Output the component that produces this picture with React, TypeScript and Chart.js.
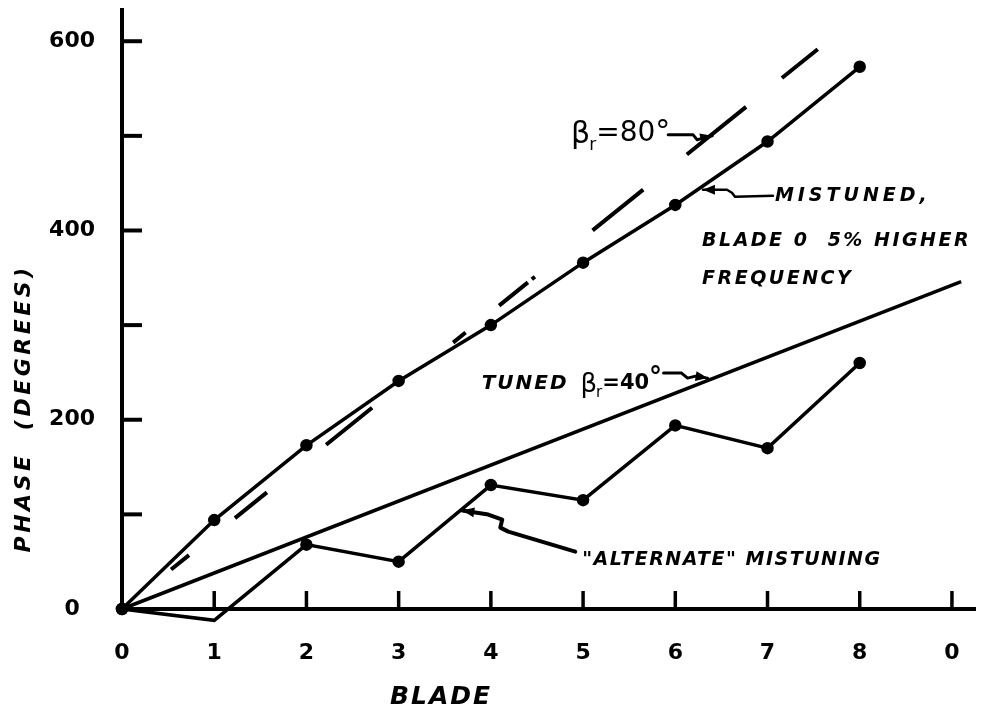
import React, { useEffect, useRef } from 'react';
import { Chart, registerables } from 'chart.js';

Chart.register(...registerables);

// Blade index along the disk and measured / reference phase angles (degrees)
const BLADES = [0, 1, 2, 3, 4, 5, 6, 7, 8];
const MISTUNED_PHASE = [0, 94, 173, 241, 300, 366, 427, 494, 573];
const ALTERNATE_PHASE = [0, -12, 68, 50, 131, 115, 194, 170, 260];
const TUNED40_BLADES = [0, 9.1];
const TUNED40_PHASE = [0, 346];
const BETA80_BLADES = [0, 7.55];
const BETA80_PHASE = [0, 592];

// Axis ticks and labels (blade 9 wraps around to blade 0)
const BLADE_TICKS = [0, 1, 2, 3, 4, 5, 6, 7, 8, 9];
const BLADE_TICK_LABELS = ['0', '1', '2', '3', '4', '5', '6', '7', '8', '0'];
const PHASE_TICKS = [100, 200, 300, 400, 500, 600];
const PHASE_LABELED = [0, 200, 400, 600];
const BLADE_MAX = 9.25;
const PHASE_MAX = 633;

// Note anchors in data units [blade, phase]
const BETA80_TEXT_AT = [4.87, 492];
const BETA80_TIP = [6.4, 500];
const MISTUNED_TIP = [6.3, 443];
const MISTUNED_LINES_AT = [[7.08, 431], [6.29, 384], [6.29, 343]];
const MISTUNED_LINES = ['MISTUNED,', 'BLADE 0  5% HIGHER', 'FREQUENCY'];
const TUNED_TEXT_AT = [3.9, 233];
const TUNED_TIP = [6.35, 244];
const ALT_TIP = [3.69, 104];
const ALT_TEXT_AT = [4.99, 46];
const X_TITLE_AT = [3.46, -93];
const Y_TITLE_AT = [-1.06, 212];

const INK = '#000';
const FAMILY = '"DejaVu Sans", sans-serif';

type P = [number, number];

function arrowHead(ctx: CanvasRenderingContext2D, tip: P, from: P) {
  const ang = Math.atan2(tip[1] - from[1], tip[0] - from[0]);
  const len = 12;
  const half = 5;
  ctx.beginPath();
  ctx.moveTo(tip[0], tip[1]);
  ctx.lineTo(tip[0] - len * Math.cos(ang) + half * Math.sin(ang), tip[1] - len * Math.sin(ang) - half * Math.cos(ang));
  ctx.lineTo(tip[0] - len * Math.cos(ang) - half * Math.sin(ang), tip[1] - len * Math.sin(ang) + half * Math.cos(ang));
  ctx.closePath();
  ctx.fill();
}

// wavy leader: offsets in px from the tip, first point is the tip
function leader(ctx: CanvasRenderingContext2D, tip: P, offsets: P[], width = 3) {
  const pts: P[] = offsets.map(([dx, dy]) => [tip[0] + dx, tip[1] + dy]);
  ctx.lineWidth = width;
  ctx.lineJoin = 'round';
  ctx.lineCap = 'round';
  ctx.beginPath();
  pts.forEach((p, i) => (i ? ctx.lineTo(p[0], p[1]) : ctx.moveTo(p[0], p[1])));
  ctx.stroke();
  arrowHead(ctx, pts[0], pts[1]);
}

function spaced(ctx: CanvasRenderingContext2D, text: string, x: number, y: number, font: string, spacing: number) {
  ctx.font = font;
  (ctx as any).letterSpacing = spacing + 'px';
  ctx.fillText(text, x, y);
  const w = ctx.measureText(text).width;
  (ctx as any).letterSpacing = '0px';
  return w;
}

const decorPlugin = {
  id: 'decor',
  afterDraw(chart: any) {
    const { ctx } = chart;
    const xs = chart.scales.x;
    const ys = chart.scales.y;
    const X = (v: number) => xs.getPixelForValue(v);
    const Y = (v: number) => ys.getPixelForValue(v);
    const at = (p: number[]): P => [X(p[0]), Y(p[1])];
    ctx.save();
    ctx.fillStyle = INK;
    ctx.strokeStyle = INK;
    ctx.lineCap = 'butt';

    // inward tick marks
    ctx.lineWidth = 4;
    PHASE_TICKS.forEach((v) => {
      ctx.beginPath();
      ctx.moveTo(X(0), Y(v));
      ctx.lineTo(X(0) + 20, Y(v));
      ctx.stroke();
    });
    ctx.lineWidth = 3.5;
    BLADE_TICKS.slice(1).forEach((v) => {
      ctx.beginPath();
      ctx.moveTo(X(v), Y(0));
      ctx.lineTo(X(v), Y(0) - 18);
      ctx.stroke();
    });

    ctx.textBaseline = 'alphabetic';
    ctx.textAlign = 'left';

    // β_r = 80° note
    {
      let [x, y] = at(BETA80_TEXT_AT);
      ctx.font = `30px ${FAMILY}`;
      ctx.fillText('β', x, y);
      x += ctx.measureText('β').width - 1;
      ctx.font = `17px ${FAMILY}`;
      ctx.fillText('r', x, y + 7);
      x += ctx.measureText('r').width;
      ctx.font = `28px ${FAMILY}`;
      ctx.fillText('=80', x, y - 2);
      x += ctx.measureText('=80').width;
      ctx.font = `30px ${FAMILY}`;
      ctx.fillText('°', x, y - 2);
      leader(ctx, at(BETA80_TIP), [[0, 0], [-9, 2], [-15, 4], [-19, -1], [-44, -1]], 3);
    }

    // mistuned note
    leader(ctx, at(MISTUNED_TIP), [[0, 0], [24, 0], [29, 3], [32, 7], [70, 6]], 2.5);
    MISTUNED_LINES.forEach((t, i) => {
      const [x, y] = at(MISTUNED_LINES_AT[i]);
      spaced(ctx, t, x, y, `italic bold 19px ${FAMILY}`, i === 0 ? 4 : 2.5);
    });

    // tuned β_r = 40° note
    {
      let [x, y] = at(TUNED_TEXT_AT);
      x += spaced(ctx, 'TUNED', x, y, `italic bold 20px ${FAMILY}`, 2) + 12;
      ctx.font = `26px ${FAMILY}`;
      ctx.fillText('β', x, y + 3);
      x += ctx.measureText('β').width - 1;
      ctx.font = `15px ${FAMILY}`;
      ctx.fillText('r', x, y + 8);
      x += ctx.measureText('r').width;
      ctx.font = `bold 21px ${FAMILY}`;
      ctx.fillText('=40', x, y);
      x += ctx.measureText('=40').width;
      ctx.font = `bold 26px ${FAMILY}`;
      ctx.fillText('°', x, y - 4);
      leader(ctx, at(TUNED_TIP), [[0, 0], [-12, -2], [-20, 0], [-26, -5], [-44, -5]], 3);
    }

    // alternate mistuning note
    leader(ctx, at(ALT_TIP), [[0, 0], [26, 4], [40, 9], [38, 17], [46, 21], [113, 41]], 4);
    {
      const [x, y] = at(ALT_TEXT_AT);
      spaced(ctx, '"ALTERNATE" MISTUNING', x, y, `italic bold 19px ${FAMILY}`, 1.5);
    }

    // axis titles
    {
      const [x, y] = at(X_TITLE_AT);
      ctx.textAlign = 'center';
      ctx.textBaseline = 'middle';
      spaced(ctx, 'BLADE', x, y, `italic bold 25px ${FAMILY}`, 2);
      const [tx, ty] = at(Y_TITLE_AT);
      ctx.translate(tx, ty);
      ctx.rotate(-Math.PI / 2);
      spaced(ctx, 'PHASE  (DEGREES)', 0, 0, `italic bold 22px ${FAMILY}`, 3.5);
    }
    ctx.restore();
  },
};

export default function App() {
  const canvasRef = useRef<HTMLCanvasElement | null>(null);

  useEffect(() => {
    const canvas = canvasRef.current;
    if (!canvas) return;

    const solid = {
      borderColor: INK,
      backgroundColor: INK,
      borderWidth: 3.5,
      pointBackgroundColor: INK,
      pointBorderColor: INK,
      pointRadius: 4.5,
      tension: 0,
      clip: false as const,
    };

    const chart = new Chart(canvas, {
      type: 'line',
      data: {
        datasets: [
          {
            ...solid,
            label: 'Tuned βr = 40°',
            data: TUNED40_BLADES.map((b, i) => ({ x: b, y: TUNED40_PHASE[i] })),
            pointRadius: 0,
          },
          {
            ...solid,
            label: 'βr = 80°',
            data: BETA80_BLADES.map((b, i) => ({ x: b, y: BETA80_PHASE[i] })),
            pointRadius: 0,
            borderWidth: 4,
            borderDash: [0, 63, 23, 59, 41, 76, 59, 104, 16, 43, 37, 5, 4, 74, 65, 56, 76, 46, 46, 400],
          },
          {
            ...solid,
            label: 'Mistuned, blade 0 5% higher frequency',
            data: BLADES.map((b, i) => ({ x: b, y: MISTUNED_PHASE[i] })),
          },
          {
            ...solid,
            label: '"Alternate" mistuning',
            data: BLADES.map((b, i) => ({ x: b, y: ALTERNATE_PHASE[i] })),
          },
        ],
      },
      options: {
        animation: false,
        responsive: true,
        maintainAspectRatio: false,
        devicePixelRatio: 1,
        layout: { autoPadding: false, padding: { top: 10, right: 26, left: 0, bottom: 0 } },
        plugins: {
          legend: { display: false },
          tooltip: { enabled: false },
        },
        scales: {
          x: {
            type: 'linear',
            min: 0,
            max: BLADE_MAX,
            grid: { display: false },
            border: { display: true, color: INK, width: 4 },
            afterBuildTicks: (s: any) => {
              s.ticks = BLADE_TICKS.map((v) => ({ value: v }));
            },
            afterFit: (s: any) => {
              s.height = 108;
              s.paddingLeft = 0;
              s.paddingRight = 0;
            },
            ticks: {
              autoSkip: false,
              maxRotation: 0,
              padding: 23,
              color: INK,
              font: { family: 'DejaVu Sans', weight: 'bold', size: 22 },
              callback: (v: any) => BLADE_TICK_LABELS[BLADE_TICKS.indexOf(Number(v))] ?? '',
            },
          },
          y: {
            type: 'linear',
            min: 0,
            max: PHASE_MAX,
            grid: { display: false },
            border: { display: true, color: INK, width: 4 },
            afterBuildTicks: (s: any) => {
              s.ticks = PHASE_LABELED.map((v) => ({ value: v }));
            },
            afterFit: (s: any) => {
              s.width = 122;
              s.paddingTop = 0;
              s.paddingBottom = 0;
            },
            ticks: {
              padding: 19,
              crossAlign: 'center',
              color: INK,
              font: { family: 'DejaVu Sans', weight: 'bold', size: 22 },
              callback: (v: any) => String(v),
            },
          },
        },
      },
      plugins: [decorPlugin],
    });

    return () => chart.destroy();
  }, []);

  return (
    <div style={{ position: 'fixed', left: 0, top: 0, width: 1001, height: 717, background: '#fff' }}>
      <canvas ref={canvasRef} style={{ display: 'block' }} />
    </div>
  );
}
